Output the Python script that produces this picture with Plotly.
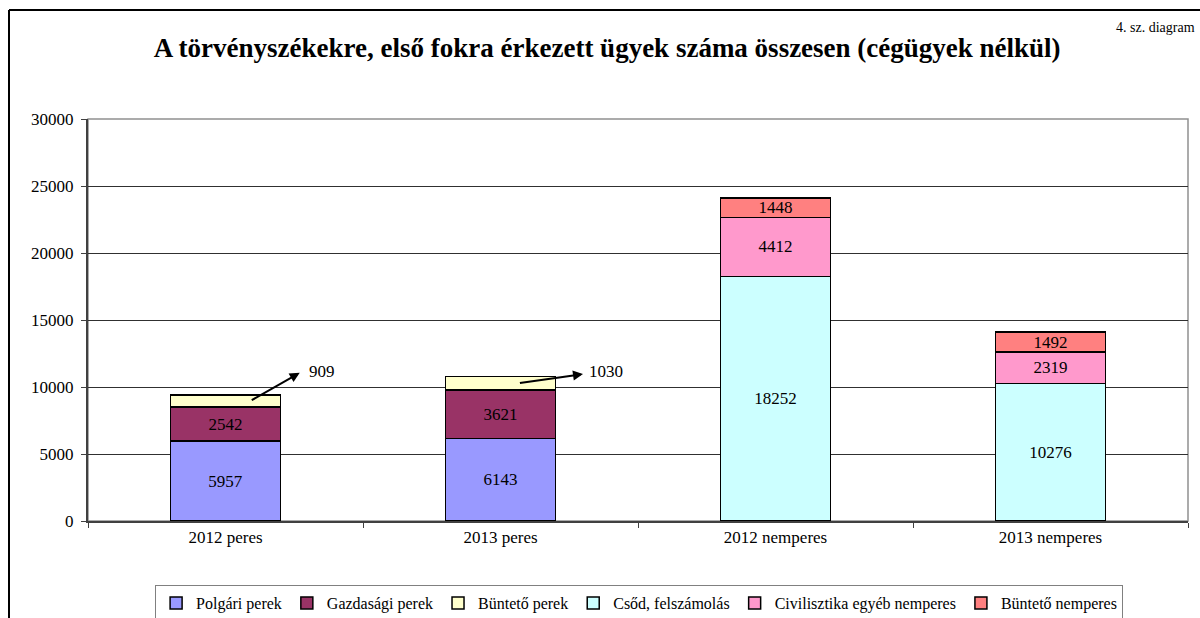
import plotly.graph_objects as go

categories = ['2012 peres', '2013 peres', '2012 nemperes', '2013 nemperes']
series_names = ['Polgári perek', 'Gazdasági perek', 'Büntető perek',
                'Csőd, felszámolás', 'Civilisztika egyéb nemperes', 'Büntető nemperes']
polgari = [5957, 6143, 0, 0]
gazdasagi = [2542, 3621, 0, 0]
buntetoperek = [909, 1030, 0, 0]
csod = [0, 0, 18252, 10276]
civil = [0, 0, 4412, 2319]
buntetonemperes = [0, 0, 1448, 1492]
colors = ['#9999FF', '#993366', '#FFFFCC', '#CCFFFF', '#FF99CC', '#FF8080']

FONT = 'Liberation Serif'
series = [polgari, gazdasagi, buntetoperek, csod, civil, buntetonemperes]
fig = go.Figure()
for i, (name, vals) in enumerate(zip(series_names, series)):
    show = [str(v) if v and name != 'Büntető perek' else '' for v in vals]
    fig.add_trace(go.Bar(x=categories, y=vals, name=name,
                         marker=dict(color=colors[i], line=dict(color='black', width=1.5)),
                         text=show, textposition='inside', insidetextanchor='middle',
                         textfont=dict(family=FONT, size=17, color='black'), textangle=0, hoverinfo='y+name'))

# the thin yellow segments get their labels outside, with arrows
anns = []
for ci, (hx, hy, lx, ly) in [(0, (0.27, 1650, 0.35, 1720)), (1, (1.30, 170, 1.385, 400))]:
    top = polgari[ci] + gazdasagi[ci] + buntetoperek[ci]
    tx = ci + 0.09 if ci == 0 else ci + 0.065
    anns.append(dict(x=hx, y=top + hy, ax=tx, ay=top - buntetoperek[ci] / 2, axref='x', ayref='y',
                     xref='x', yref='y', text='', showarrow=True, arrowhead=2, arrowsize=1,
                     arrowwidth=2, arrowcolor='black', standoff=0))
    anns.append(dict(x=lx, y=top + ly, xref='x', yref='y', text=str(buntetoperek[ci]), showarrow=False,
                     font=dict(family=FONT, size=17, color='black')))
anns.append(dict(x=(1197 - 88) / 1100, y=(521 - 28) / 402, xref='paper', yref='paper', xanchor='right',
                 yanchor='middle', showarrow=False, text='4. sz. diagram',
                 font=dict(family=FONT, size=14, color='black')))

fig.update_layout(
    barmode='stack', bargap=0.6, width=1200, height=618,
    margin=dict(l=88, r=12, t=119, b=97),
    paper_bgcolor='white', plot_bgcolor='white',
    font=dict(family=FONT, size=17, color='black'),
    uniformtext=dict(minsize=17, mode='show'),
    title=dict(text='<b>A törvényszékekre, első fokra érkezett ügyek száma összesen (cégügyek nélkül)</b>',
               x=0.506, xanchor='center', y=1 - 48 / 618, yanchor='middle',
               font=dict(family=FONT, size=27, color='black')),
    xaxis=dict(type='category', tickson='boundaries', ticks='outside', ticklen=5, tickcolor='#404040',
               showline=True, linecolor='#404040', linewidth=1.5, showgrid=False, tickfont=dict(size=17)),
    yaxis=dict(range=[0, 30000], dtick=5000, tickformat='d', ticks='outside', ticklen=5, tickcolor='#404040',
               showline=True, linecolor='#404040', linewidth=1.5, gridcolor='#303030', gridwidth=1,
               zeroline=False, tickfont=dict(size=17), ticksuffix=' '),
    legend=dict(orientation='h', x=0.501, xanchor='center', yref='container', y=1 - 585 / 618, yanchor='top',
                bordercolor='#808080', borderwidth=1, font=dict(family=FONT, size=16),
                traceorder='normal', itemwidth=30, tracegroupgap=0),
    annotations=anns,
    showlegend=True,
    shapes=[
        dict(type='rect', xref='paper', yref='paper', x0=0, x1=1, y0=0, y1=1,
             line=dict(color='#909090', width=1.5), layer='below'),
        dict(type='line', xref='paper', yref='paper', x0=(9 - 88) / 1100, x1=1.2,
             y0=(521 - 10) / 402, y1=(521 - 10) / 402, line=dict(color='black', width=2)),
        dict(type='line', xref='paper', yref='paper', x0=(9 - 88) / 1100, x1=(9 - 88) / 1100,
             y0=-1, y1=(521 - 10) / 402, line=dict(color='black', width=2)),
    ],
)
fig.write_html('out.html', config={'displayModeBar': False},
               post_script="document.body.style.margin='0';")
